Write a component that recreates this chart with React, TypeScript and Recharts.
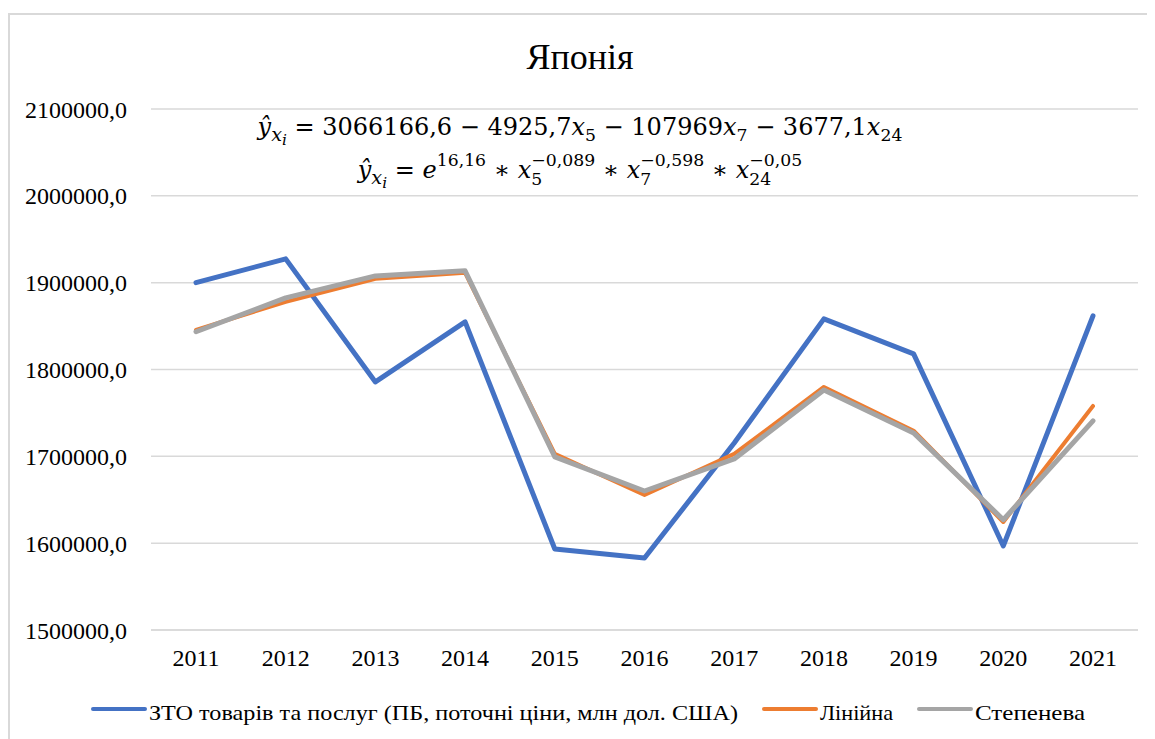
import React from 'react';
import { LineChart, Line, XAxis, YAxis, CartesianGrid, Legend } from 'recharts';

const years = ['2011', '2012', '2013', '2014', '2015', '2016', '2017', '2018', '2019', '2020', '2021'];
const actual = [1900000, 1927400, 1785700, 1854800, 1593300, 1582900, 1715400, 1858300, 1818000, 1596800, 1861700];
const linear = [1845600, 1877900, 1904400, 1911300, 1702800, 1655500, 1702800, 1779900, 1729500, 1624400, 1758000];
const power = [1843500, 1882500, 1907800, 1913600, 1699300, 1660100, 1697000, 1776500, 1727000, 1627000, 1740800];
const yTicks = [1500000, 1600000, 1700000, 1800000, 1900000, 2000000, 2100000];

const seriesNames = ['ЗТО товарів  та послуг  (ПБ, поточні  ціни,  млн дол. США)', 'Лінійна', 'Степенева'];
const colors = ['#4472C4', '#ED7D31', '#A5A5A5'];

const data = years.map((y, i) => ({ year: y, a: actual[i], l: linear[i], p: power[i] }));

const serif = 'Liberation Serif, Times New Roman, serif';
const mathFont = 'DejaVu Serif, serif';

const It = ({ children }: { children: React.ReactNode }) => <span style={{ fontStyle: 'italic' }}>{children}</span>;
const Sub = ({ children }: { children: React.ReactNode }) => (
  <span style={{ fontSize: '0.72em', position: 'relative', top: '0.32em' }}>{children}</span>
);
const SubSup = ({ sub, sup }: { sub: string; sup: string }) => (
  <span style={{ display: 'inline-block', position: 'relative', fontSize: '0.72em', lineHeight: 1 }}>
    <span style={{ position: 'relative', top: '-0.72em' }}>{sup}</span>
    <span style={{ position: 'absolute', left: 0, top: '0.38em' }}>{sub}</span>
  </span>
);
const YHat = () => (
  <>
    <It>ŷ</It>
    <span style={{ fontSize: '0.8em', position: 'relative', top: '0.3em' }}>
      <It>x</It>
      <span style={{ fontSize: '0.8em', position: 'relative', top: '0.3em' }}><It>i</It></span>
    </span>
  </>
);

const legendWidths = [589, 73, 110];

const renderLegend = (props: any) => {
  const payload = props.payload || [];
  let x = 83;
  const items: React.ReactNode[] = [];
  payload.forEach((entry: any, i: number) => {
    const x0 = x;
    items.push(
      <g key={i}>
        <line x1={x0} y1={14} x2={x0 + 52} y2={14} stroke={entry.color} strokeWidth={4} strokeLinecap="round" />
        <text x={x0 + 56} y={25} fill="#000" fontFamily={serif} fontSize={22} textLength={legendWidths[i]} lengthAdjust="spacingAndGlyphs">
          {entry.value}
        </text>
      </g>
    );
    x = x0 + 56 + legendWidths[i] + 26;
  });
  return (
    <svg width={1145} height={40} style={{ display: 'block', fontFamily: serif }}>
      {items}
    </svg>
  );
};

const lineStyle: React.CSSProperties = {
  position: 'absolute',
  left: 0,
  width: 1140,
  textAlign: 'center',
  fontFamily: mathFont,
  fontSize: 24,
  lineHeight: 1,
  color: '#000',
  whiteSpace: 'nowrap',
  zIndex: 2,
};

export default function App() {
  return (
    <div
      style={{
        position: 'relative',
        marginTop: 5,
        width: 1145,
        height: 724,
        borderLeft: '2px solid #d9d9d9',
        borderTop: '2px solid #d9d9d9',
        background: '#fff',
        fontFamily: serif,
      }}
    >
      <div
        style={{
          position: 'absolute',
          left: 0,
          top: 24,
          width: 1140,
          textAlign: 'center',
          fontFamily: serif,
          fontSize: 36,
          lineHeight: '36px',
          color: '#000',
        }}
      >
        Японія
      </div>
      <div style={{ ...lineStyle, top: 100 }}>
        <YHat /> = 3066166,6 − 4925,7<It>x</It><Sub>5</Sub> − 107969<It>x</It><Sub>7</Sub> − 3677,1<It>x</It><Sub>24</Sub>
      </div>
      <div style={{ ...lineStyle, top: 143 }}>
        <YHat /> = <It>e</It>
        <span style={{ fontSize: '0.72em', position: 'relative', top: '-0.72em' }}>16,16</span> ∗ <It>x</It>
        <SubSup sub="5" sup="−0,089" /> ∗ <It>x</It>
        <SubSup sub="7" sup="−0,598" /> ∗ <It>x</It>
        <SubSup sub="24" sup="−0,05" />
      </div>
      <LineChart width={1145} height={724} data={data} margin={{ top: 94, right: 17, left: 0, bottom: 29 }} style={{ fontFamily: serif }}>
        <CartesianGrid horizontal vertical={false} stroke="#d9d9d9" strokeWidth={1.5} />
        <XAxis
          dataKey="year"
          height={40}
          padding={{ left: 45, right: 45 }}
          axisLine={{ stroke: '#d9d9d9', strokeWidth: 1.5 }}
          tickLine={false}
          tickMargin={13}
          interval={0}
          tick={{ fontSize: 24, fill: '#000', fontFamily: serif }}
        />
        <YAxis
          width={141}
          domain={[1500000, 2100000]}
          ticks={yTicks}
          interval={0}
          axisLine={false}
          tickLine={false}
          tickMargin={18}
          tickFormatter={(v: number) => `${v},0`}
          tick={{ fontSize: 24, fill: '#000', fontFamily: serif }}
        />
        <Legend
          content={renderLegend}
          height={40}
          wrapperStyle={{ position: 'absolute', left: 0, top: 680, width: 1145, height: 40 }}
        />
        <Line name={seriesNames[0]} dataKey="a" stroke={colors[0]} strokeWidth={5} dot={false} strokeLinecap="round" strokeLinejoin="round" isAnimationActive={false} />
        <Line name={seriesNames[1]} dataKey="l" stroke={colors[1]} strokeWidth={4} dot={false} strokeLinecap="round" strokeLinejoin="round" isAnimationActive={false} />
        <Line name={seriesNames[2]} dataKey="p" stroke={colors[2]} strokeWidth={5} dot={false} strokeLinecap="round" strokeLinejoin="round" isAnimationActive={false} />
      </LineChart>
    </div>
  );
}
